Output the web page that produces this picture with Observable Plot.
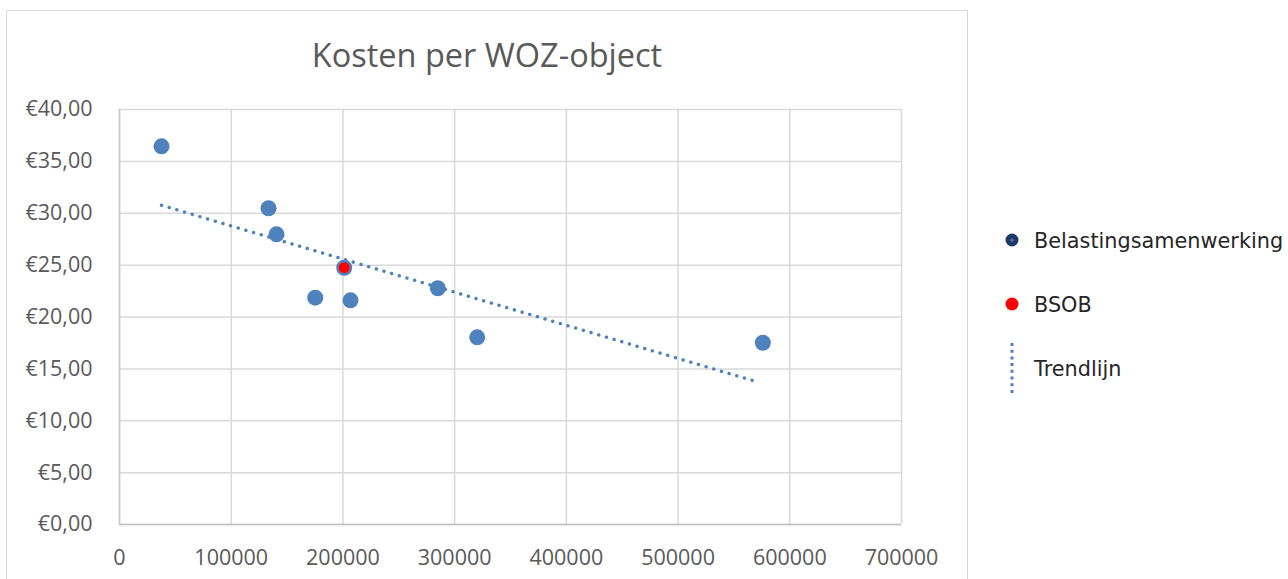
<!DOCTYPE html>
<html>
<head>
<meta charset="utf-8">
<script src="https://cdn.jsdelivr.net/npm/d3@7"></script>
<script src="https://cdn.jsdelivr.net/npm/@observablehq/plot@0.6"></script>
<style>
  html, body { margin: 0; padding: 0; background: #fff; }
  #wrap { position: relative; width: 1288px; height: 579px; overflow: hidden; background: #fff; }
  #border { position: absolute; left: 6px; top: 10px; width: 962px; height: 600px; border: 1px solid #d9d9d9; box-sizing: border-box; }
  #title { position: absolute; left: 6px; width: 962px; top: 34px; text-align: center; font-family: "Open Sans", sans-serif; font-size: 32.5px; color: #595959; line-height: 42px; }
  #chart { position: absolute; left: 0; top: 0; }
  #legend { position: absolute; left: 0; top: 0; }
</style>
</head>
<body>
<div id="wrap">
  <div id="border"></div>
  <div id="chart"></div>
  <div id="title">Kosten per WOZ-object</div>
  <svg id="legend" width="1288" height="579"></svg>
</div>
<script>
// Data
const samenwerkingWoz = [37600, 133400, 140550, 175200, 201150, 206800, 284960, 320200, 575900];
const samenwerkingKosten = [36.45, 30.48, 27.97, 21.86, 24.75, 21.61, 22.77, 18.04, 17.52];
const bsobWoz = [201150];
const bsobKosten = [24.75];
const trendWoz = [37600, 572000];
const trendKosten = [30.77, 13.71];
const xTicks = [0, 100000, 200000, 300000, 400000, 500000, 600000, 700000];
const yTicks = [0, 5, 10, 15, 20, 25, 30, 35, 40];
const legendLabels = ["Belastingsamenwerking", "BSOB", "Trendlijn"];

const blue = "#4f81bd";

const samenwerking = samenwerkingWoz.map((x, i) => ({x, y: samenwerkingKosten[i]}));
const bsob = bsobWoz.map((x, i) => ({x, y: bsobKosten[i]}));
const trend = trendWoz.map((x, i) => ({x, y: trendKosten[i]}));

const fmtY = d => "€" + d.toFixed(2).replace(".", ",");

const plot = Plot.plot({
  width: 1288,
  height: 579,
  marginLeft: 119,
  marginRight: 387,
  marginTop: 109,
  marginBottom: 55,
  style: { fontFamily: "Open Sans", fontSize: "21.5px", color: "#595959", background: "transparent", overflow: "visible" },
  x: { domain: [0, 700000], label: null },
  y: { domain: [0, 40], label: null },
  marks: [
    Plot.gridX(xTicks, { stroke: "#d9d9d9", strokeOpacity: 1, strokeWidth: 1.5 }),
    Plot.gridY(yTicks, { stroke: "#d9d9d9", strokeOpacity: 1, strokeWidth: 1.5 }),
    Plot.ruleY([0], { stroke: "#bfbfbf", strokeWidth: 1.5 }),
    Plot.ruleX([0], { stroke: "#c8c8c8", strokeWidth: 1.5 }),
    Plot.axisX({ ticks: xTicks, tickFormat: d => String(d), tickSize: 0, tickPadding: 25 }),
    Plot.axisY({ ticks: yTicks, tickFormat: fmtY, tickSize: 0, tickPadding: 27 }),
    Plot.line(trend, { x: "x", y: "y", stroke: blue, strokeWidth: 3.4, strokeDasharray: "0.1,7.9", strokeLinecap: "round" }),
    Plot.dot(samenwerking, { x: "x", y: "y", r: 8, fill: blue, stroke: "none" }),
    Plot.dot(bsob, { x: "x", y: "y", r: 5.5, fill: "#ff0000", stroke: "none" })
  ]
});
document.getElementById("chart").appendChild(plot);

// Legend
const lg = d3.select("#legend");
const lx = 1012, tx = 1034;
const rows = [241, 305, 369];
lg.append("circle").attr("cx", lx).attr("cy", 240).attr("r", 6.5).attr("fill", "#203864");
lg.append("circle").attr("cx", lx).attr("cy", 240).attr("r", 1.6).attr("fill", blue);
lg.append("circle").attr("cx", lx).attr("cy", 304).attr("r", 6.5).attr("fill", "#ff0000");
lg.append("line").attr("x1", lx).attr("x2", lx).attr("y1", 343).attr("y2", 393)
  .attr("stroke", blue).attr("stroke-width", 3).attr("stroke-dasharray", "3,3.7");
legendLabels.forEach((t, i) => {
  lg.append("text").attr("x", tx).attr("y", rows[i]).attr("dy", "0.35em")
    .attr("font-family", "DejaVu Sans").attr("font-size", 20.8).attr("fill", "#262626").text(t);
});
</script>
</body>
</html>
